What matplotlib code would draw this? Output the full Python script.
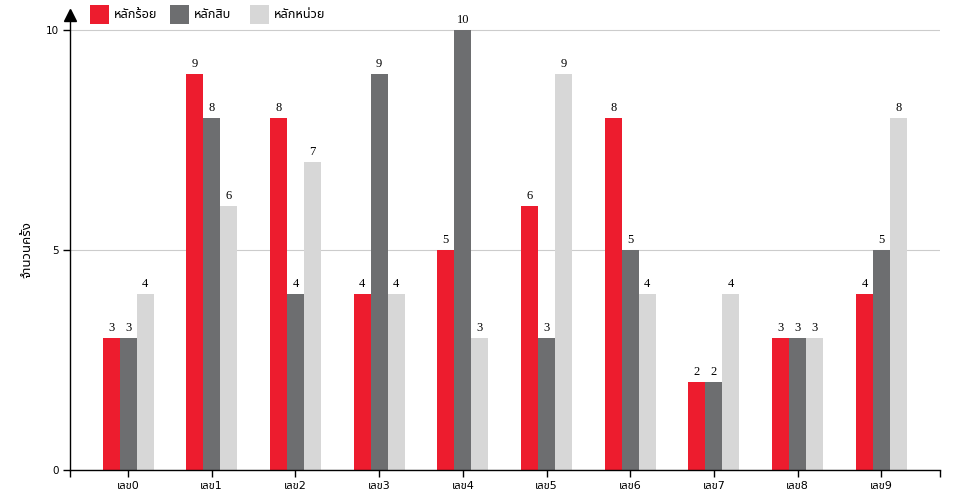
import numpy as np
import matplotlib
matplotlib.use('Agg')
import matplotlib.pyplot as plt
import matplotlib.transforms as mtransforms
from matplotlib.patches import Rectangle

# data
categories = ['เลข0', 'เลข1', 'เลข2', 'เลข3', 'เลข4', 'เลข5', 'เลข6', 'เลข7', 'เลข8', 'เลข9']
hundreds   = [3, 9, 8, 4, 5, 6, 8, 2, 3, 4]
tens       = [3, 8, 4, 9, 10, 3, 5, 2, 3, 5]
units      = [4, 6, 7, 4, 3, 9, 4, 4, 3, 8]
series     = ['หลักร้อย', 'หลักสิบ', 'หลักหน่วย']
yticks     = [0, 5, 10]

COLORS    = ['#ED1C2E', '#6D6E70', '#D7D7D7']
THAI_FONT = ['DejaVu Sans', 'Noto Sans Thai']
BAR_W     = 0.203
W, H      = 960, 500

plt.rcParams['font.family'] = THAI_FONT

fig = plt.figure(figsize=(W / 100, H / 100), dpi=100)
ax = fig.add_axes([70 / W, 30 / H, 870 / W, 451 / H])

x = np.arange(len(categories))
for i, (vals, color) in enumerate(zip([hundreds, tens, units], COLORS)):
    pos = x + (i - 1) * BAR_W
    ax.bar(pos, vals, width=BAR_W, color=color, linewidth=0, zorder=2)
    for px, v in zip(pos, vals):
        ax.annotate(str(v), (px, v), xytext=(0, 3), textcoords='offset points',
                    ha='center', va='bottom', fontsize=9, family='Liberation Serif')

xlim = (-0.693, 9.70)
ax.set_xlim(xlim)
ax.set_ylim(0, 10.25)

ax.spines['top'].set_visible(False)
ax.spines['right'].set_visible(False)
ax.spines['left'].set_linewidth(1)
ax.spines['bottom'].set_linewidth(1)

ax.set_yticks(yticks)
ax.set_yticklabels([str(t) for t in yticks], fontsize=7.5)
ax.set_xticks(x)
ax.set_xticklabels(categories, fontsize=8)
ax.set_xticks(list(xlim), minor=True)
ax.tick_params(axis='both', which='both', length=5, width=1, pad=3, color='black')
ax.yaxis.grid(True, color='#cccccc', linewidth=0.8, zorder=0)

# arrow head on top of the y axis
arrowTrans = mtransforms.offset_copy(ax.transAxes, fig=fig, x=0, y=3, units='points')
ax.plot([0], [1], marker='^', markersize=8, color='black', transform=arrowTrans,
        clip_on=False, zorder=5)

fig.text(27 / W, 1 - 250 / H, 'จำนวนครั้ง', rotation=90, ha='center', va='center',
         fontsize=9.5)

# legend along the top
for i, (name, color) in enumerate(zip(series, COLORS)):
    left = 90 + i * 80
    fig.patches.append(Rectangle((left / W, 1 - 24 / H), 19 / W, 19 / H,
                                 transform=fig.transFigure, color=color, linewidth=0))
    fig.text((left + 24) / W, 1 - 14.5 / H, name, ha='left', va='center', fontsize=9.2)

fig.savefig('out.png', dpi=100)
